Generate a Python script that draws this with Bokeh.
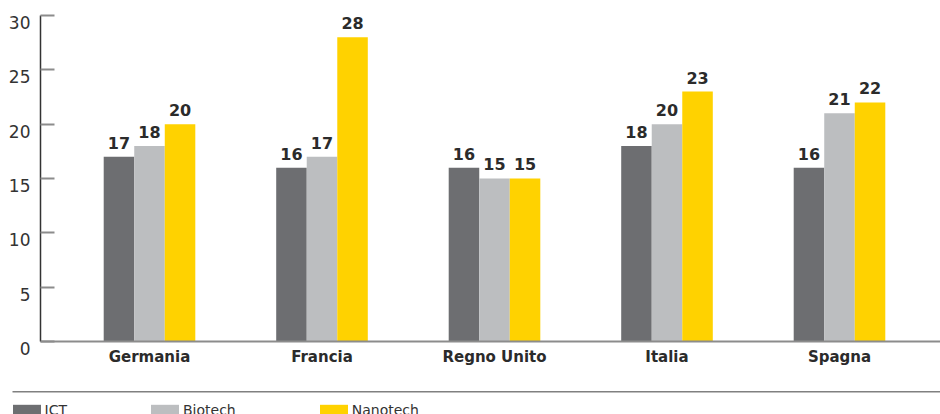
from bokeh.plotting import figure
from bokeh.models import (ColumnDataSource, Range1d, FixedTicker, Legend,
                          LegendItem, BoxAnnotation, LinearAxis,
                          CustomJSTickFormatter)
from bokeh.transform import dodge
from bokeh.core.properties import value
from bokeh.embed import file_html
from bokeh.resources import INLINE

categories = ["Germania", "Francia", "Regno Unito", "Italia", "Spagna"]
ict = [17, 16, 16, 18, 16]
biotech = [18, 17, 15, 20, 21]
nanotech = [20, 28, 15, 23, 22]
series_names = ["ICT", "Biotech", "Nanotech"]
series_values = [ict, biotech, nanotech]
colors = ["#6d6e71", "#bcbec0", "#ffd200"]
y_ticks = [0, 5, 10, 15, 20, 25, 30]

xs = list(range(len(categories)))
data = dict(x=xs)
for n, vals in zip(series_names, series_values):
    data[n] = vals
    data[n + "_lbl"] = [str(v) for v in vals]
source = ColumnDataSource(data)

X0, X1 = -0.8638, 4.5855      # view extent (canvas-wide frame)
Y0, Y1 = -6.718, 31.38
AXIS_X = -0.632               # where the value axis sits
LBL_SHIFT = 0.644             # tick labels sit just below their tick

p = figure(width=940, height=414, output_backend="svg", toolbar_location=None,
           x_range=Range1d(X0, X1), y_range=Range1d(Y0, Y1),
           min_border_left=0, min_border_right=0, min_border_top=0,
           min_border_bottom=0)
p.xgrid.visible = False
p.ygrid.visible = False
p.outline_line_color = None
p.background_fill_color = "white"
p.border_fill_color = "white"

bw = 0.177
offsets = [-bw, 0, bw]
renderers = []
for n, c, off in zip(series_names, colors, offsets):
    r = p.vbar(x=dodge("x", off, range=p.x_range), top=n, width=bw, bottom=0,
               source=source, fill_color=c, line_color=None)
    renderers.append(r)
    p.text(x=dodge("x", off, range=p.x_range), y=n, text=n + "_lbl",
           source=source, text_align="center", text_baseline="alphabetic",
           y_offset=-14, text_font=value("DejaVu Sans"), text_font_style="bold",
           text_font_size="16px", text_color="#2b2b2b")

# value axis: line + inner ticks
yax = p.yaxis[0]
yax.fixed_location = AXIS_X
yax.bounds = (0, 30)
yax.ticker = FixedTicker(ticks=y_ticks)
yax.formatter = CustomJSTickFormatter(code="return ''")
yax.major_tick_in = 14
yax.major_tick_out = 0
yax.minor_tick_line_color = None
yax.major_tick_line_color = "#8c8c8c"
yax.major_tick_line_width = 2
yax.axis_line_color = "#333333"
yax.axis_line_width = 1.5

# value axis labels (slightly below their ticks)
p.extra_y_ranges = {"lbl": Range1d(Y0 + LBL_SHIFT, Y1 + LBL_SHIFT)}
lax = LinearAxis(y_range_name="lbl", fixed_location=AXIS_X,
                 ticker=FixedTicker(ticks=y_ticks))
lax.axis_line_color = None
lax.major_tick_line_color = None
lax.minor_tick_line_color = None
lax.major_tick_in = 0
lax.major_tick_out = 0
lax.major_label_text_font = "DejaVu Sans"
lax.major_label_text_font_size = "17px"
lax.major_label_text_color = "#333333"
lax.major_label_standoff = 10
p.add_layout(lax, "left")

# category axis
xax = p.xaxis[0]
xax.fixed_location = 0
xax.bounds = (AXIS_X, X1)
xax.ticker = FixedTicker(ticks=xs)
xax.major_label_overrides = {i: c for i, c in zip(xs, categories)}
xax.major_tick_in = 0
xax.major_tick_out = 0
xax.minor_tick_line_color = None
xax.axis_line_color = "#8c8c8c"
xax.axis_line_width = 2
xax.major_label_text_font = "DejaVu Sans"
xax.major_label_text_font_style = "bold"
xax.major_label_text_font_size = "15px"
xax.major_label_text_color = "#2b2b2b"
xax.major_label_standoff = 7

# separator line above legend
sep = BoxAnnotation(left=12, right=940, top=390.5, bottom=392,
                    left_units="canvas", right_units="canvas",
                    top_units="canvas", bottom_units="canvas",
                    fill_color="#808080", fill_alpha=1, line_color=None)
p.add_layout(sep)

legend = Legend(items=[LegendItem(label=n, renderers=[r])
                       for n, r in zip(series_names, renderers)],
                location=(8.5, -3.5), orientation="horizontal",
                glyph_width=35, glyph_height=13, label_height=13,
                label_standoff=1, spacing=80, padding=0, margin=0,
                border_line_color=None, background_fill_alpha=0,
                label_text_font="DejaVu Sans", label_text_font_size="14px",
                label_text_color="#333333")
p.add_layout(legend, "center")

open("out.html", "w").write(file_html(p, INLINE))
